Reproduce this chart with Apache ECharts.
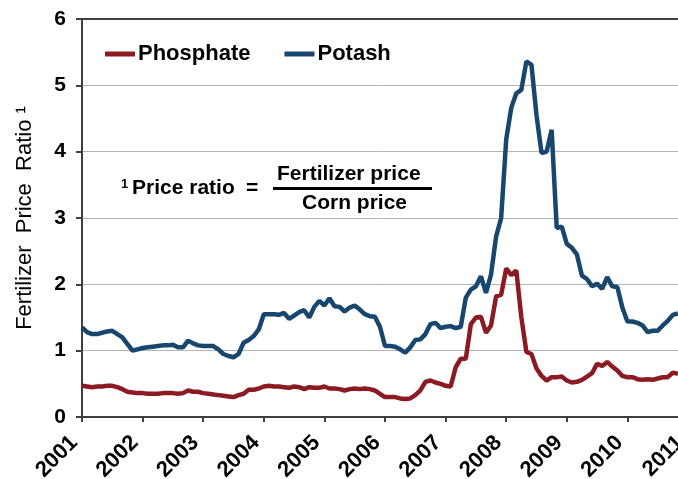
<!DOCTYPE html>
<html>
<head>
<meta charset="utf-8">
<script src="https://cdn.jsdelivr.net/npm/echarts@6/dist/echarts.min.js"></script>
<style>
  html, body {margin: 0; padding: 0; background: #fff;}
  #chart {width: 678px; height: 479px;}
</style>
</head>
<body>
<div id="chart"></div>
<script>
// MONTHLY DATA, JAN 2001 .. NOV 2010
const start_year = 2001;
const year_ticks = [2001, 2002, 2003, 2004, 2005, 2006, 2007, 2008, 2009, 2010, 2011];
const series_names = ["Phosphate", "Potash"];

const phosphate = [
  0.47, 0.46, 0.45, 0.46, 0.46, 0.47, 0.47, 0.45, 0.42, 0.38, 0.37, 0.36,
  0.36, 0.35, 0.35, 0.35, 0.36, 0.36, 0.36, 0.35, 0.36, 0.40, 0.38, 0.38,
  0.36, 0.35, 0.34, 0.33, 0.32, 0.31, 0.30, 0.33, 0.35, 0.41, 0.41, 0.43,
  0.46, 0.47, 0.46, 0.46, 0.45, 0.44, 0.46, 0.45, 0.42, 0.45, 0.44, 0.44,
  0.46, 0.43, 0.43, 0.42, 0.40, 0.42, 0.43, 0.42, 0.43, 0.42, 0.40, 0.35,
  0.30, 0.30, 0.30, 0.28, 0.27, 0.28, 0.33, 0.40, 0.53, 0.55, 0.52, 0.50,
  0.47, 0.46, 0.75, 0.88, 0.88, 1.40, 1.50, 1.51, 1.27, 1.38, 1.82, 1.84,
  2.24, 2.14, 2.21, 1.50, 0.98, 0.95, 0.73, 0.62, 0.55, 0.60, 0.60, 0.61,
  0.55, 0.52, 0.53, 0.56, 0.61, 0.66, 0.80, 0.77, 0.83, 0.76, 0.70, 0.62,
  0.60, 0.60, 0.57, 0.56, 0.57, 0.56, 0.58, 0.60, 0.60, 0.67, 0.65
];

const potash = [
  1.35, 1.28, 1.25, 1.25, 1.27, 1.29, 1.30, 1.25, 1.20, 1.10, 1.00, 1.02,
  1.04, 1.05, 1.06, 1.07, 1.08, 1.08, 1.09, 1.05, 1.05, 1.15, 1.11, 1.08,
  1.07, 1.07, 1.07, 1.02, 0.95, 0.92, 0.90, 0.95, 1.12, 1.16, 1.22, 1.32,
  1.55, 1.55, 1.55, 1.54, 1.57, 1.48, 1.53, 1.58, 1.61, 1.50, 1.66, 1.75,
  1.68, 1.79, 1.67, 1.66, 1.59, 1.65, 1.68, 1.62, 1.55, 1.52, 1.51, 1.36,
  1.07, 1.07, 1.06, 1.02, 0.97, 1.05, 1.16, 1.17, 1.25, 1.40, 1.42, 1.34,
  1.36, 1.37, 1.34, 1.36, 1.80, 1.92, 1.97, 2.12, 1.87, 2.15, 2.72, 3.00,
  4.18, 4.66, 4.88, 4.93, 5.36, 5.31, 4.55, 3.98, 4.00, 4.33, 2.85, 2.87,
  2.61, 2.55, 2.45, 2.13, 2.08, 1.97, 2.01, 1.93, 2.11, 1.97, 1.96, 1.65,
  1.44, 1.44, 1.42, 1.38, 1.28, 1.30, 1.30, 1.38, 1.45, 1.54, 1.56
];

const colors = {Phosphate: "#8b1a22", Potash: "#17466f"};
const font = "Arial, 'Liberation Sans', sans-serif";

function toPoints(values){
  return values.map((v, i) => [start_year + i / 12, v]);
}

function lineSeries(name, values){
  return {
    name, type: "line", data: toPoints(values),
    showSymbol: false, symbol: "none",
    lineStyle: {width: 4.5, color: colors[name]},
    itemStyle: {color: colors[name]}
  };
}

// "1 Price ratio = Fertilizer price / Corn price" note
function formulaGraphic(){
  const txt = (text, left, top, size) => ({
    type: "text", left, top,
    style: {text, fontFamily: font, fontWeight: "bold", fontSize: size || 21, fill: "#000"}
  });
  return [
    txt("1", 121, 178, 13),
    txt("Price ratio", 132, 178),
    txt("=", 246, 178),
    txt("Fertilizer price", 277, 164),
    txt("Corn price", 302, 193),
    {type: "rect", shape: {x: 273, y: 187, width: 159, height: 3}, style: {fill: "#000"}}
  ];
}

function buildOption(){
  return {
    animation: false,
    backgroundColor: "#fff",
    grid: {left: 82, top: 19, width: 606, height: 398, containLabel: false, outerBoundsMode: "none"},
    legend: {
      data: series_names, left: 100, top: 38, itemGap: 34,
      icon: "rect", itemWidth: 30, itemHeight: 5,
      textStyle: {fontFamily: font, fontWeight: "bold", fontSize: 22, color: "#000", padding: [0, 0, 0, -2]}
    },
    xAxis: [
      {
        type: "value", min: year_ticks[0], max: year_ticks[year_ticks.length - 1], interval: 1,
        axisLine: {show: true, lineStyle: {color: "#404040", width: 2}},
        axisTick: {show: true, inside: false, length: 5, lineStyle: {color: "#404040", width: 2}},
        splitLine: {show: false},
        axisLabel: {rotate: 45, margin: 30, verticalAlign: "bottom", fontFamily: font, fontWeight: "bold",
                    fontSize: 22, color: "#000", formatter: (v) => String(v)}
      },
      {
        type: "value", position: "top", min: year_ticks[0], max: year_ticks[year_ticks.length - 1],
        axisLine: {show: true, lineStyle: {color: "#404040", width: 2}},
        axisTick: {show: false}, axisLabel: {show: false}, splitLine: {show: false}
      }
    ],
    yAxis: {
      type: "value", min: 0, max: 6, interval: 1,
      name: "Fertilizer  Price  Ratio \u00b9", nameLocation: "middle", nameGap: 46,
      nameTextStyle: {fontFamily: font, fontSize: 22, color: "#000"},
      axisLine: {show: true, lineStyle: {color: "#404040", width: 2}},
      axisTick: {show: true, length: 6, lineStyle: {color: "#404040", width: 2}},
      splitLine: {show: true, lineStyle: {color: "#b4b4b4", width: 1}},
      axisLabel: {margin: 16, fontFamily: font, fontWeight: "bold", fontSize: 21, color: "#000"}
    },
    graphic: formulaGraphic(),
    series: [lineSeries("Phosphate", phosphate), lineSeries("Potash", potash)]
  };
}

const chart = echarts.init(document.getElementById("chart"), null, {renderer: "canvas"});
chart.setOption(buildOption());
</script>
</body>
</html>
